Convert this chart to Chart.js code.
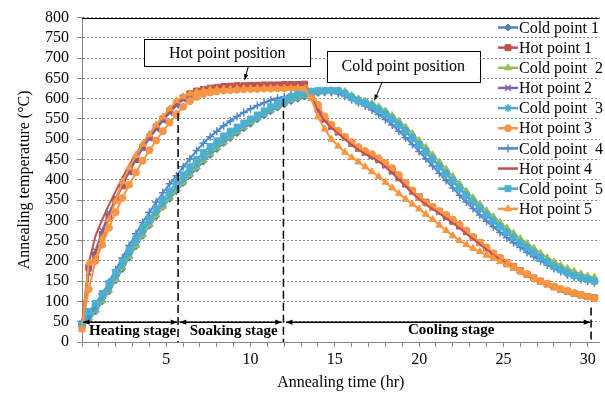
<!DOCTYPE html>
<html>
<head>
<meta charset="utf-8">
<title>Annealing temperature</title>
<script src="https://cdn.jsdelivr.net/npm/chart.js@4"></script>
<style>
  html, body { margin: 0; padding: 0; background: #fff; }
  canvas { display: block; }
</style>
</head>
<body>
<canvas id="annealChart" width="605" height="394"></canvas>
<script>
const ctx = document.getElementById('annealChart').getContext('2d');

// Sampling times (hr)
const hours = [
  0, 0.4, 0.8, 1.2, 1.6, 2.0, 2.4, 2.8, 3.2, 3.6,
  4.0, 4.4, 4.8, 5.2, 5.6, 6.0, 6.4, 6.8, 7.2, 7.6,
  8.0, 8.4, 8.8, 9.2, 9.6, 10.0, 10.4, 10.8, 11.2, 11.6,
  12.0, 12.4, 12.8, 13.2, 13.6, 14.0, 14.4, 14.8, 15.2, 15.6,
  16.0, 16.4, 16.8, 17.2, 17.6, 18.0, 18.4, 18.8, 19.2, 19.6,
  20.0, 20.4, 20.8, 21.2, 21.6, 22.0, 22.4, 22.8, 23.2, 23.6,
  24.0, 24.4, 24.8, 25.2, 25.6, 26.0, 26.4, 26.8, 27.2, 27.6,
  28.0, 28.4, 28.8, 29.2, 29.6, 30.0, 30.4
];

// Temperatures (°C)
const coldPoint1 = [
  45, 55, 75, 100, 125, 152, 180, 208, 236, 262,
  287, 310, 333, 353, 372, 392, 410, 428, 445, 461,
  476, 490, 503, 515, 527, 538, 549, 559, 569, 578,
  586, 594, 600, 605, 610, 614, 616, 617, 617, 612,
  604, 597, 590, 582, 572, 561, 548, 534, 518, 502,
  485, 468, 450, 432, 414, 396, 378, 360, 344, 328,
  312, 297, 283, 269, 256, 243, 231, 219, 207, 196,
  186, 177, 169, 163, 157, 153, 150
];
const hotPoint1 = [
  40, 185, 215, 265, 310, 350, 385, 420, 450, 480,
  505, 530, 550, 570, 588, 602, 612, 619, 623, 626,
  628, 630, 631, 632, 632, 633, 633, 634, 634, 634,
  635, 635, 635, 636, 615, 575, 550, 532, 518, 505,
  490, 478, 468, 460, 450, 437, 422, 405, 390, 372,
  358, 345, 333, 322, 310, 298, 286, 272, 258, 245,
  232, 218, 207, 196, 186, 176, 167, 158, 150, 143,
  136, 130, 125, 120, 116, 112, 109
];
const coldPoint2 = [
  44, 58, 78, 102, 128, 155, 183, 211, 238, 264,
  289, 312, 334, 355, 375, 394, 413, 431, 448, 464,
  479, 493, 506, 518, 530, 541, 552, 562, 572, 581,
  589, 597, 603, 608, 612, 616, 618, 619, 619, 618,
  608, 600, 594, 588, 580, 570, 558, 545, 530, 514,
  497, 480, 462, 444, 426, 408, 390, 372, 356, 340,
  324, 309, 295, 281, 268, 255, 243, 231, 219, 208,
  198, 189, 181, 174, 168, 163, 160
];
const hotPoint2 = [
  38, 170, 225, 275, 318, 355, 390, 422, 452, 478,
  502, 525, 546, 565, 583, 598, 608, 615, 619, 622,
  624, 625, 626, 627, 627, 628, 628, 629, 629, 630,
  630, 631, 631, 631, 612, 572, 548, 530, 516, 503,
  489, 477, 467, 458, 448, 435, 420, 404, 388, 371,
  356, 343, 331, 320, 309, 297, 285, 271, 257, 244,
  231, 218, 206, 195, 185, 175, 166, 157, 149, 142,
  135, 129, 124, 119, 115, 111, 108
];
const coldPoint3 = [
  46, 62, 82, 108, 134, 162, 190, 218, 246, 272,
  297, 320, 342, 362, 382, 401, 420, 438, 455, 470,
  485, 498, 511, 523, 534, 545, 555, 565, 575, 584,
  592, 600, 606, 611, 615, 618, 619, 620, 620, 614,
  605, 597, 591, 584, 575, 564, 552, 538, 522, 505,
  488, 471, 453, 435, 417, 399, 381, 363, 347, 331,
  315, 300, 286, 272, 259, 246, 234, 222, 210, 199,
  189, 180, 172, 165, 159, 155, 151
];
const hotPoint3 = [
  35, 130, 200, 240, 282, 320, 355, 388, 418, 447,
  473, 497, 520, 541, 562, 580, 594, 604, 611, 615,
  618, 620, 621, 622, 623, 624, 624, 625, 625, 626,
  626, 627, 627, 627, 618, 585, 556, 536, 521, 506,
  493, 481, 471, 463, 453, 441, 429, 412, 393, 374,
  357, 343, 333, 323, 314, 302, 290, 275, 259, 245,
  233, 219, 207, 196, 185, 175, 167, 157, 150, 144,
  137, 131, 126, 121, 116, 112, 108
];
const coldPoint4 = [
  45, 65, 90, 118, 148, 178, 208, 238, 267, 295,
  320, 345, 368, 390, 410, 432, 452, 472, 490, 506,
  520, 533, 545, 556, 566, 575, 583, 590, 596, 601,
  605, 609, 612, 614, 615, 616, 616, 615, 612, 606,
  598, 590, 582, 572, 561, 549, 535, 520, 504, 487,
  470, 452, 434, 416, 398, 380, 362, 345, 329, 313,
  298, 284, 270, 257, 245, 233, 221, 210, 200, 190,
  181, 173, 166, 160, 154, 150, 146
];
const hotPoint4 = [
  45, 195, 262, 302, 338, 372, 405, 436, 463, 490,
  513, 535, 555, 572, 589, 603, 612, 618, 622, 625,
  627, 628, 629, 630, 631, 631, 632, 632, 633, 633,
  633, 634, 634, 634, 608, 568, 545, 528, 514, 500,
  486, 474, 464, 455, 445, 432, 417, 400, 384, 367,
  352, 339, 328, 317, 305, 293, 281, 267, 254, 241,
  228, 215, 204, 193, 183, 173, 164, 156, 148, 141,
  134, 128, 123, 118, 114, 110, 107
];
const coldPoint5 = [
  45, 75, 95, 120, 145, 172, 200, 228, 255, 282,
  305, 328, 352, 372, 392, 412, 432, 450, 467, 482,
  496, 508, 520, 530, 540, 550, 560, 570, 580, 590,
  598, 606, 612, 616, 618, 620, 620, 620, 620, 612,
  602, 594, 589, 582, 572, 562, 550, 536, 520, 503,
  486, 470, 450, 432, 415, 396, 378, 361, 345, 330,
  314, 298, 284, 270, 257, 244, 232, 220, 208, 197,
  187, 178, 170, 164, 158, 154, 150
];
const hotPoint5 = [
  30, 195, 205, 255, 302, 348, 395, 430, 460, 488,
  512, 535, 555, 575, 595, 605, 612, 617, 620, 622,
  623, 624, 624, 625, 625, 625, 626, 626, 626, 626,
  626, 626, 626, 624, 600, 555, 525, 500, 483, 468,
  455, 444, 432, 420, 408, 394, 380, 366, 352, 340,
  328, 315, 302, 288, 275, 262, 250, 240, 231, 223,
  214, 206, 198, 190, 182, 174, 166, 157, 149, 142,
  135, 129, 124, 119, 115, 111, 108
];

Chart.defaults.font.family = "'Liberation Serif', 'Times New Roman', serif";
Chart.defaults.font.size = 16;
Chart.defaults.color = '#000';

function series(label, values, color, pointStyle, radius, index) {
  return {
    label: label,
    data: values,
    borderColor: color,
    backgroundColor: color,
    pointBackgroundColor: color,
    pointBorderColor: color,
    borderWidth: 2,
    pointStyle: pointStyle,
    pointRadius: radius,
    pointBorderWidth: (pointStyle === 'star' || pointStyle === 'cross' || pointStyle === 'crossRot') ? 1.5 : 1,
    tension: 0,
    clip: 6,
    order: 10 - index // later series drawn on top
  };
}

const datasets = [
  series('Cold point 1', coldPoint1, '#4F81BD', 'rectRot', 3.5, 0),
  series('Hot point 1', hotPoint1, '#C0504D', 'rect', 4.2, 1),
  series('Cold point  2', coldPoint2, '#9BBB59', 'triangle', 4, 2),
  series('Hot point 2', hotPoint2, '#8064A2', 'crossRot', 4, 3),
  series('Cold point  3', coldPoint3, '#4BACC6', 'star', 4, 4),
  series('Hot point 3', hotPoint3, '#F79646', 'circle', 3.5, 5),
  series('Cold point  4', coldPoint4, '#4F86CC', 'cross', 4, 6),
  series('Hot point 4', hotPoint4, '#C0504D', 'circle', 0, 7),
  series('Cold point  5', coldPoint5, '#4BAFD0', 'rect', 4.2, 8),
  series('Hot point 5', hotPoint5, '#F8963F', 'triangle', 4, 9)
];

// helpers for the annotation layer
function arrowHead(c, x1, y1, x2, y2, size) {
  const a = Math.atan2(y2 - y1, x2 - x1);
  c.beginPath();
  c.moveTo(x2, y2);
  c.lineTo(x2 - size * Math.cos(a - 0.38), y2 - size * Math.sin(a - 0.38));
  c.lineTo(x2 - size * Math.cos(a + 0.38), y2 - size * Math.sin(a + 0.38));
  c.closePath();
  c.fill();
}

function arrow(c, x1, y1, x2, y2, size, both) {
  c.beginPath();
  c.moveTo(x1, y1);
  c.lineTo(x2, y2);
  c.stroke();
  arrowHead(c, x1, y1, x2, y2, size);
  if (both) arrowHead(c, x2, y2, x1, y1, size);
}

function labelBox(c, px, py, t1, v1, t2, v2, text) {
  const l = px(t1), r = px(t2), top = py(v1), bot = py(v2);
  c.fillStyle = '#fff';
  c.fillRect(l, top, r - l, bot - top);
  c.strokeStyle = '#000';
  c.lineWidth = 1;
  c.strokeRect(Math.round(l) + 0.5, Math.round(top) + 0.5, Math.round(r - l), Math.round(bot - top));
  c.fillStyle = '#000';
  c.font = "16px 'Liberation Serif'";
  c.textAlign = 'center';
  c.textBaseline = 'middle';
  c.fillText(text, (l + r) / 2, (top + bot) / 2 + 1);
}

const overlay = {
  id: 'overlay',
  afterDatasetsDraw(chart) {
    const c = chart.ctx;
    const { x, y } = chart.scales;
    const area = chart.chartArea;
    const px = t => x.getPixelForValue(t);
    const py = v => y.getPixelForValue(v);
    c.save();

    // top frame line
    c.strokeStyle = '#000';
    c.lineWidth = 1;
    c.beginPath();
    c.moveTo(area.left, Math.round(area.top) + 0.5);
    c.lineTo(area.right, Math.round(area.top) + 0.5);
    c.stroke();

    // stage boundaries
    c.setLineDash([8, 4]);
    c.lineWidth = 1.5;
    [[5.7, 565], [11.95, 600], [30.2, 85]].forEach(([t, v]) => {
      c.beginPath();
      c.moveTo(px(t), py(v));
      c.lineTo(px(t), py(0));
      c.stroke();
    });
    c.setLineDash([]);

    // stage spans
    c.fillStyle = '#000';
    c.lineWidth = 1.5;
    const ay = py(49);
    arrow(c, px(0) + 1, ay, px(5.65), ay, 7, true);
    arrow(c, px(5.8), ay, px(11.85), ay, 7, true);
    arrow(c, px(12.1), ay, px(30.15), ay, 7, true);

    c.font = "bold 15px 'Liberation Serif'";
    c.textAlign = 'center';
    c.textBaseline = 'middle';
    c.fillText('Heating stage', px(3.0), py(27));
    c.fillText('Soaking stage', px(9.0), py(27));
    c.fillText('Cooling stage', px(21.9), py(30));

    // position callouts
    labelBox(c, px, py, 3.7, 747, 13.53, 681, 'Hot point position');
    c.lineWidth = 1;
    arrow(c, px(9.88), py(681), px(9.65), py(647), 6, false);

    labelBox(c, px, py, 14.53, 718, 23.59, 642, 'Cold point position');
    c.lineWidth = 1;
    arrow(c, px(17.82), py(642), px(17.35), py(596), 6, false);

    c.restore();
  },
  afterDraw(chart) {
    // legend inside the plot, one row per series
    const c = chart.ctx;
    c.save();
    c.font = "16px 'Liberation Serif'";
    c.textAlign = 'left';
    c.textBaseline = 'middle';
    chart.data.datasets.forEach((ds, i) => {
      const rowY = 27.5 + i * 20.15;
      c.strokeStyle = ds.borderColor;
      c.fillStyle = ds.borderColor;
      c.lineWidth = 2.5;
      c.beginPath();
      c.moveTo(498, rowY);
      c.lineTo(518, rowY);
      c.stroke();
      if (ds.pointRadius > 0) {
        c.lineWidth = ds.pointBorderWidth;
        Chart.helpers.drawPoint(c, {
          pointStyle: ds.pointStyle,
          radius: ds.pointRadius,
          rotation: 0,
          borderWidth: ds.pointBorderWidth
        }, 508, rowY);
      }
      c.fillStyle = '#000';
      c.fillText(ds.label, 519, rowY + 1);
    });
    c.restore();
  }
};

const config = {
  type: 'line',
  data: {
    labels: hours,
    datasets: datasets
  },
  options: {
    responsive: false,
    animation: false,
    layout: {
      padding: { top: 13, right: 0, bottom: 0, left: 0 }
    },
    plugins: {
      legend: { display: false },
      tooltip: { enabled: false }
    },
    scales: {
      x: {
        type: 'linear',
        min: 0,
        max: 30.7,
        afterFit: scale => { scale.height = 52; },
        ticks: {
          stepSize: 1,
          autoSkip: false,
          includeBounds: false,
          maxRotation: 0,
          padding: 3,
          callback: v => (v > 0 && v % 5 === 0) ? v : ''
        },
        grid: {
          drawOnChartArea: false,
          drawTicks: true,
          tickLength: 5,
          color: '#868686'
        },
        border: { color: '#868686', width: 1 },
        title: {
          display: true,
          text: 'Annealing time (hr)',
          font: { size: 16 },
          padding: { top: 0, bottom: 2 }
        }
      },
      y: {
        min: 0,
        max: 800,
        afterFit: scale => { scale.width = 82; },
        ticks: {
          stepSize: 50,
          autoSkip: false,
          padding: 8
        },
        grid: {
          color: '#8E8E8E',
          tickLength: 5,
          tickColor: '#868686',
          tickBorderDash: []
        },
        border: { color: '#868686', width: 1, dash: [2, 2] },
        title: {
          display: true,
          text: 'Annealing temperature (°C)',
          font: { size: 16 },
          padding: { top: 15, bottom: 0 }
        }
      }
    }
  },
  plugins: [overlay]
};

const annealChart = new Chart(ctx, config);
</script>
</body>
</html>
